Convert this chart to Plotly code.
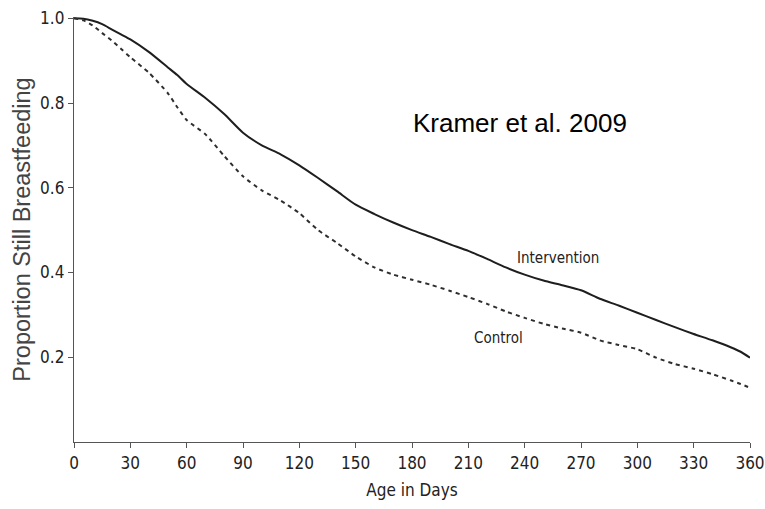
"""Kramer et al. 2009 — proportion still breastfeeding by age, intervention vs control."""
import plotly.graph_objects as go

# Age in days
days = [0, 5, 10, 15, 20, 25, 30, 40, 50, 55, 60, 70, 80, 90, 100, 110, 120, 130, 140,
        150, 160, 170, 180, 190, 200, 210, 220, 230, 240, 250, 260, 270, 280, 290,
        300, 310, 320, 330, 340, 350, 355, 360]

intervention = [1.0, 0.999, 0.994, 0.986, 0.974, 0.962, 0.950, 0.920, 0.884, 0.866,
                0.845, 0.812, 0.774, 0.730, 0.700, 0.679, 0.653, 0.623, 0.592,
                0.560, 0.538, 0.518, 0.500, 0.484, 0.467, 0.451, 0.432, 0.412,
                0.395, 0.381, 0.370, 0.358, 0.338, 0.322, 0.305, 0.288, 0.271,
                0.255, 0.240, 0.223, 0.213, 0.199]

control = [1.0, 0.995, 0.983, 0.965, 0.948, 0.928, 0.908, 0.871, 0.823, 0.790,
           0.760, 0.726, 0.675, 0.627, 0.594, 0.570, 0.540, 0.500, 0.470,
           0.438, 0.412, 0.395, 0.383, 0.371, 0.357, 0.342, 0.326, 0.308,
           0.293, 0.279, 0.268, 0.258, 0.240, 0.229, 0.219, 0.199, 0.184,
           0.173, 0.160, 0.145, 0.137, 0.128]

x_ticks = list(range(0, 361, 30))
y_ticks = [0.2, 0.4, 0.6, 0.8, 1.0]

NARROW = "DejaVu Sans Condensed, Liberation Sans Narrow, Arial Narrow, sans-serif"
SANS = "Liberation Sans, Arial, sans-serif"
AXIS = "#555555"

fig = go.Figure()
fig.add_trace(go.Scatter(x=days, y=intervention, mode="lines", name="Intervention",
                         line=dict(color="#1e1e1e", width=2, shape="spline", smoothing=0.6)))
fig.add_trace(go.Scatter(x=days, y=control, mode="lines", name="Control",
                         line=dict(color="#2e2e2e", width=2, dash="4px,4px",
                                   shape="spline", smoothing=0.6)))

fig.add_annotation(x=237.5, y=0.754, text="Kramer et al. 2009", showarrow=False,
                   font=dict(family=SANS, size=26, color="#000"))
fig.add_annotation(x=258, y=0.435, text="Intervention", showarrow=False,
                   font=dict(family=NARROW, size=15, color="#222"))
fig.add_annotation(x=226, y=0.246, text="Control", showarrow=False,
                   font=dict(family=NARROW, size=15, color="#222"))

fig.update_layout(width=765, height=509, showlegend=False,
                  margin=dict(l=74, r=15, t=17, b=67),
                  paper_bgcolor="white", plot_bgcolor="white",
                  font=dict(family=NARROW, size=17, color="#222"))
fig.update_xaxes(range=[0, 360], tickvals=x_ticks, ticks="outside", ticklen=5,
                 tickcolor=AXIS, showline=True, linecolor=AXIS, linewidth=1.3,
                 showgrid=False, zeroline=False, automargin=False,
                 ticklabeloverflow="allow",
                 title=dict(text="Age in Days", font=dict(family=NARROW, size=17), standoff=12))
fig.update_yaxes(range=[0, 1.003], tickvals=y_ticks, tickformat=".1f", ticks="outside",
                 ticklen=5, tickcolor=AXIS, showline=True, linecolor=AXIS, linewidth=1.3,
                 showgrid=False, zeroline=False, automargin=False,
                 title=dict(text="Proportion Still Breastfeeding",
                            font=dict(family=SANS, size=23.5, color="#444"), standoff=2))

# drop the page body's default 8px margin so the figure fills the window
fig.write_html("out.html", config={"displayModeBar": False},
               post_script="document.body.style.margin='0';")
